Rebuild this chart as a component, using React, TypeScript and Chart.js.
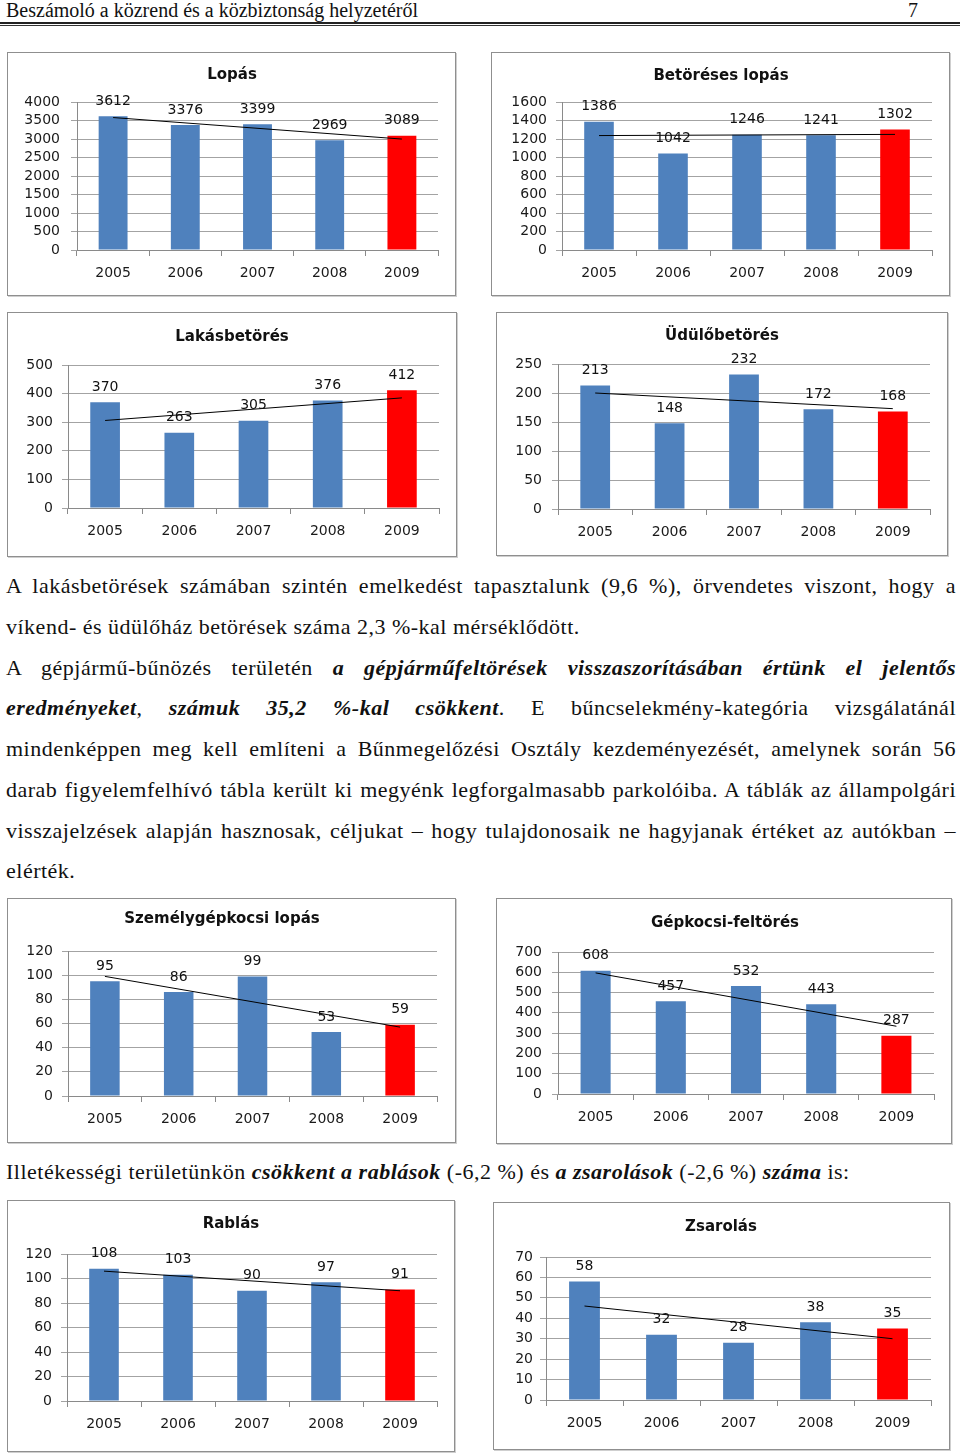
import React, { useEffect, useRef } from "react";
import { Chart, registerables } from "chart.js";

Chart.register(...registerables);

// ---------- data ----------
const years = ["2005", "2006", "2007", "2008", "2009"];

const lopas = [3612, 3376, 3399, 2969, 3089];
const betoreses = [1386, 1042, 1246, 1241, 1302];
const lakasbetores = [370, 263, 305, 376, 412];
const udulobetores = [213, 148, 232, 172, 168];
const szemelygepkocsi = [95, 86, 99, 53, 59];
const gepkocsiFeltores = [608, 457, 532, 443, 287];
const rablas = [108, 103, 90, 97, 91];
const zsarolas = [58, 32, 28, 38, 35];

// trend line end points (2005 -> 2009)
const lopasTrend = [3580, 2998];
const betoresesTrend = [1237, 1250];
const lakasTrend = [306, 385];
const uduloTrend = [200, 173];
const szemelyTrend = [99, 57];
const gepkocsiTrend = [597, 334];
const rablasTrend = [106, 90];
const zsarolasTrend = [46, 30];

const chartTitles = [
  "Lopás",
  "Betöréses lopás",
  "Lakásbetörés",
  "Üdülőbetörés",
  "Személygépkocsi lopás",
  "Gépkocsi-feltörés",
  "Rablás",
  "Zsarolás",
];
const axisMax = [4000, 1600, 500, 250, 120, 700, 120, 70];
const axisStep = [500, 200, 100, 50, 20, 100, 20, 10];

const BLUE = "#4F81BD";
const RED = "#FF0000";
const FONT = "'DejaVu Sans', sans-serif";

type Layout = {
  box: [number, number, number, number];
  axisX: number;
  plotRight: number;
  plotTop: number;
  plotBottom: number;
  titleX: number;
  titleY: number;
  gap: number;
};

const layouts: Layout[] = [
  { box: [7, 52, 456, 296], axisX: 77, plotRight: 438, plotTop: 102, plotBottom: 250, titleX: 232, titleY: 75, gap: 11 },
  { box: [491, 52, 950, 296], axisX: 562, plotRight: 932, plotTop: 102, plotBottom: 250, titleX: 721, titleY: 76, gap: 9 },
  { box: [7, 312, 457, 557], axisX: 68, plotRight: 439, plotTop: 365, plotBottom: 508, titleX: 232, titleY: 337, gap: 9 },
  { box: [496, 312, 948, 556], axisX: 558, plotRight: 930, plotTop: 364, plotBottom: 509, titleX: 722, titleY: 336, gap: 10 },
  { box: [7, 898, 456, 1143], axisX: 68, plotRight: 437, plotTop: 951, plotBottom: 1096, titleX: 222, titleY: 919, gap: 9 },
  { box: [496, 898, 952, 1144], axisX: 558, plotRight: 934, plotTop: 952, plotBottom: 1094, titleX: 725, titleY: 923, gap: 10 },
  { box: [7, 1200, 455, 1452], axisX: 67, plotRight: 437, plotTop: 1254, plotBottom: 1401, titleX: 231, titleY: 1224, gap: 9 },
  { box: [493, 1202, 950, 1450], axisX: 546, plotRight: 931, plotTop: 1257, plotBottom: 1400, titleX: 721, titleY: 1227, gap: 7 },
];

const seriesList = [lopas, betoreses, lakasbetores, udulobetores, szemelygepkocsi, gepkocsiFeltores, rablas, zsarolas];
const trendList = [lopasTrend, betoresesTrend, lakasTrend, uduloTrend, szemelyTrend, gepkocsiTrend, rablasTrend, zsarolasTrend];

function BarBox({ idx }: { idx: number }) {
  const ref = useRef<HTMLCanvasElement | null>(null);
  const L = layouts[idx];
  const [bl, bt, br, bb] = L.box;
  const W = br - bl;
  const H = bb - bt;
  const cx = bl + 1;
  const cy = bt + 1;
  const cw = W - 2;
  const ch = H - 2;

  useEffect(() => {
    if (!ref.current) return;
    const values = seriesList[idx];
    const trend = trendList[idx];
    const trendData = years.map((_, i) => (i === 0 ? trend[0] : i === years.length - 1 ? trend[1] : null));

    const decor = {
      id: "decor" + idx,
      afterDatasetsDraw(chart: any) {
        const ctx = chart.ctx;
        const meta = chart.getDatasetMeta(0);
        ctx.save();
        ctx.font = `14px ${FONT}`;
        ctx.fillStyle = "#111";
        ctx.textAlign = "center";
        ctx.textBaseline = "middle";
        meta.data.forEach((el: any, i: number) => {
          ctx.fillText(String(values[i]), el.x, el.y - 15);
        });
        ctx.font = `bold 15px ${FONT}`;
        ctx.fillStyle = "#111";
        ctx.fillText(chartTitles[idx], L.titleX - cx, L.titleY - cy);
        ctx.restore();
      },
    };

    const chart = new Chart(ref.current, {
      type: "bar",
      data: {
        labels: years,
        datasets: [
          {
            type: "bar",
            data: values,
            backgroundColor: values.map((_, i) => (i === values.length - 1 ? RED : BLUE)),
            borderWidth: 0,
            barPercentage: 0.4,
            categoryPercentage: 1,
            order: 1,
          } as any,
          {
            type: "line",
            data: trendData,
            spanGaps: true,
            borderColor: "#000",
            borderWidth: 1,
            pointRadius: 0,
            fill: false,
            order: 0,
          } as any,
        ],
      },
      options: {
        responsive: false,
        animation: false,
        devicePixelRatio: 1,
        layout: {
          padding: {
            top: L.plotTop - cy,
            right: cx + cw - L.plotRight,
            bottom: 0,
            left: 0,
          },
        },
        plugins: {
          legend: { display: false },
          tooltip: { enabled: false },
          title: { display: false },
        },
        scales: {
          x: {
            type: "category",
            offset: true,
            grid: {
              offset: true,
              drawOnChartArea: false,
              drawTicks: true,
              tickLength: 6,
              color: "#8a8a8a",
            },
            border: { color: "#8a8a8a" },
            ticks: { font: { family: FONT, size: 14 }, color: "#1a1a1a", padding: 9, maxRotation: 0 },
            afterFit: (s: any) => {
              s.height = cy + ch - L.plotBottom;
            },
          },
          y: {
            min: 0,
            max: axisMax[idx],
            grid: { color: "#a3a3a3", tickLength: 6, drawTicks: true },
            border: { color: "#8a8a8a" },
            ticks: {
              stepSize: axisStep[idx],
              autoSkip: false,
              font: { family: FONT, size: 14 },
              color: "#1a1a1a",
              padding: L.gap,
              callback: (v: any) => String(v),
            },
            afterFit: (s: any) => {
              s.width = L.axisX - cx;
            },
          },
        },
      } as any,
      plugins: [decor],
    });
    return () => chart.destroy();
  }, [idx]);

  return (
    <div
      style={{
        position: "absolute",
        left: bl,
        top: bt,
        width: W,
        height: H,
        boxSizing: "border-box",
        border: "1px solid #8f8f8f",
        boxShadow: "1px 1px 0 #cfcfcf",
        background: "#fff",
      }}
    >
      <canvas
        ref={ref}
        width={cw}
        height={ch}
        style={{ position: "absolute", left: 0, top: 0, width: cw, height: ch }}
      />
    </div>
  );
}

const BI = ({ children }: { children: React.ReactNode }) => (
  <b>
    <i>{children}</i>
  </b>
);

function Line({ y, justify, children }: { y: number; justify?: boolean; children: React.ReactNode }) {
  return (
    <div
      style={{
        position: "absolute",
        left: 6,
        width: 950,
        top: y - 20,
        height: 40,
        lineHeight: "40px",
        fontFamily: "'Liberation Serif', serif",
        fontSize: 22,
        letterSpacing: "0.5px",
        color: "#111",
        textAlign: justify ? "justify" : "left",
        textAlignLast: justify ? "justify" : "left",
      } as any}
    >
      {children}
    </div>
  );
}

export default function App() {
  return (
    <div style={{ position: "absolute", left: 0, top: 0, width: 960, height: 1455, background: "#fff", overflow: "hidden" }}>
      <div
        style={{
          position: "absolute",
          left: 6,
          top: 0,
          height: 20,
          lineHeight: "20px",
          fontFamily: "'Liberation Serif', serif",
          fontSize: 20,
          color: "#111",
          whiteSpace: "nowrap",
        }}
      >
        Beszámoló a közrend és a közbiztonság helyzetéről
      </div>
      <div
        style={{
          position: "absolute",
          left: 905,
          width: 16,
          top: 0,
          height: 20,
          lineHeight: "20px",
          fontFamily: "'Liberation Serif', serif",
          fontSize: 20,
          color: "#111",
          textAlign: "center",
        }}
      >
        7
      </div>
      <div style={{ position: "absolute", left: 0, top: 22, width: 960, height: 2, background: "#222" }} />
      <div style={{ position: "absolute", left: 0, top: 25, width: 960, height: 1, background: "#333" }} />

      {[0, 1, 2, 3].map((i) => (
        <BarBox key={i} idx={i} />
      ))}

      <Line y={586} justify>
        A lakásbetörések számában szintén emelkedést tapasztalunk (9,6 %), örvendetes viszont, hogy a
      </Line>
      <Line y={627}>víkend- és üdülőház betörések száma 2,3 %-kal mérséklődött.</Line>
      <Line y={668} justify>
        A gépjármű-bűnözés területén <BI>a gépjárműfeltörések visszaszorításában értünk el jelentős</BI>
      </Line>
      <Line y={708} justify>
        <BI>eredményeket</BI>, <BI>számuk 35,2 %-kal csökkent</BI>. E bűncselekmény-kategória vizsgálatánál
      </Line>
      <Line y={749} justify>
        mindenképpen meg kell említeni a Bűnmegelőzési Osztály kezdeményezését, amelynek során 56
      </Line>
      <Line y={790} justify>
        darab figyelemfelhívó tábla került ki megyénk legforgalmasabb parkolóiba. A táblák az állampolgári
      </Line>
      <Line y={831} justify>
        visszajelzések alapján hasznosak, céljukat – hogy tulajdonosaik ne hagyjanak értéket az autókban –
      </Line>
      <Line y={871}>elérték.</Line>

      {[4, 5].map((i) => (
        <BarBox key={i} idx={i} />
      ))}

      <Line y={1172}>
        Illetékességi területünkön <BI>csökkent a rablások</BI> (-6,2 %) és <BI>a zsarolások</BI> (-2,6 %){" "}
        <BI>száma</BI> is:
      </Line>

      {[6, 7].map((i) => (
        <BarBox key={i} idx={i} />
      ))}
    </div>
  );
}
